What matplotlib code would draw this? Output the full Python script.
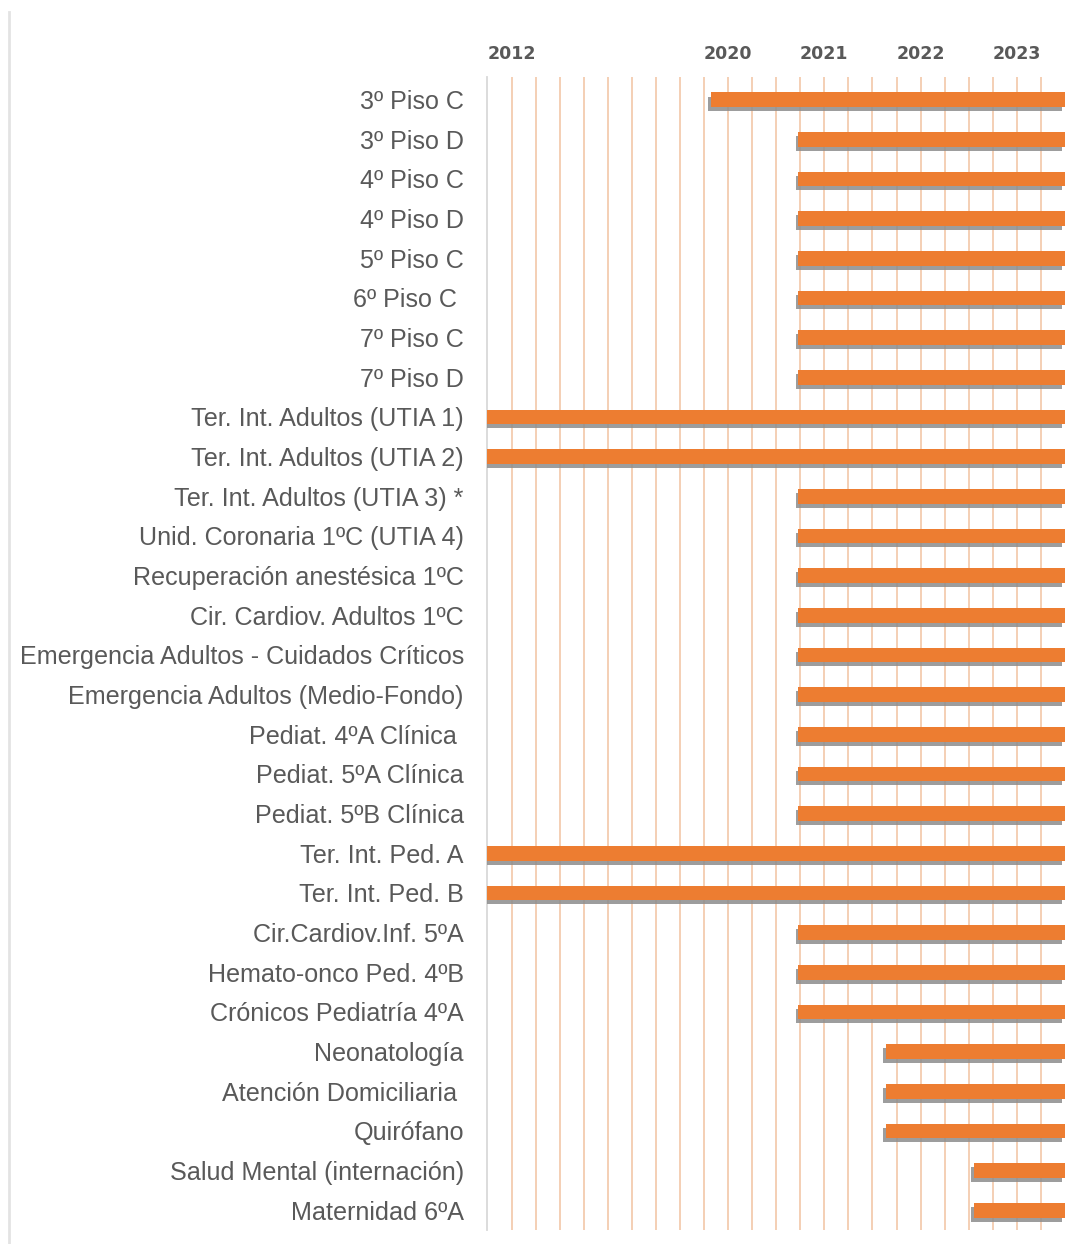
import numpy as np
from matplotlib import pyplot as plt
from matplotlib import patheffects as pe
from matplotlib.lines import Line2D

plt.rcParams['font.family'] = ['Liberation Sans', 'DejaVu Sans']

# units = grid steps on the time axis
units = ['3º Piso C', '3º Piso D', '4º Piso C', '4º Piso D', '5º Piso C', '6º Piso C ',
         '7º Piso C', '7º Piso D', 'Ter. Int. Adultos (UTIA 1)', 'Ter. Int. Adultos (UTIA 2)',
         'Ter. Int. Adultos (UTIA 3) *', 'Unid. Coronaria 1ºC (UTIA 4)',
         'Recuperación anestésica 1ºC', 'Cir. Cardiov. Adultos 1ºC',
         'Emergencia Adultos - Cuidados Críticos', 'Emergencia Adultos (Medio-Fondo)',
         'Pediat. 4ºA Clínica ', 'Pediat. 5ºA Clínica', 'Pediat. 5ºB Clínica',
         'Ter. Int. Ped. A', 'Ter. Int. Ped. B', 'Cir.Cardiov.Inf. 5ºA',
         'Hemato-onco Ped. 4ºB', 'Crónicos Pediatría 4ºA', 'Neonatología',
         'Atención Domiciliaria ', 'Quirófano', 'Salud Mental (internación)', 'Maternidad 6ºA']
start = [9.27, 12.92, 12.92, 12.92, 12.92, 12.92, 12.92, 12.92, 0, 0,
         12.92, 12.92, 12.92, 12.92, 12.92, 12.92, 12.92, 12.92, 12.92,
         0, 0, 12.92, 12.92, 12.92, 16.55, 16.55, 16.55, 20.2, 20.2]
end = 24
year_pos = [1, 10, 14, 18, 22]
year_lbl = ['2012', '2020', '2021', '2022', '2023']

fig = plt.figure(figsize=(10.73, 12.44), dpi=100)
ax = fig.add_axes([0.4543, 0.01125, 0.5382, 0.9268])

y = np.arange(len(units))
widths = [end - s for s in start]
bars = ax.barh(y, widths, left=start, height=0.37, color='#ED7D31', zorder=3)
for b in bars:
    b.set_path_effects([pe.SimplePatchShadow(offset=(-2.0, -3.0), shadow_rgbFace='#8C8C8C', alpha=0.85),
                        pe.Normal()])

ax.set_xlim(0, end)
ax.set_ylim(len(units) - 0.5, -0.57)

ax.xaxis.tick_top()
ax.set_xticks(year_pos)
ax.set_xticklabels(year_lbl, fontsize=12.5, fontweight='bold', color='#595959', family='DejaVu Sans')
ax.set_xticks(range(1, end), minor=True)
ax.tick_params(axis='x', which='both', length=0, pad=10)
ax.grid(axis='x', which='both', color='#F3CBAF', linewidth=1.3, zorder=0)

ax.set_yticks(y)
ax.set_yticklabels(units, fontsize=18.1, color='#595959')
ax.tick_params(axis='y', length=0, pad=17)

for s in ['top', 'right', 'bottom']:
    ax.spines[s].set_visible(False)
ax.spines['left'].set_color('#D9D9D9')
ax.spines['left'].set_linewidth(1.3)

# page border on the left
fig.add_artist(Line2D([0.0087, 0.0087], [0, 0.99], color='#E3E3E3', linewidth=2))

fig.savefig('out.png', dpi=100)
